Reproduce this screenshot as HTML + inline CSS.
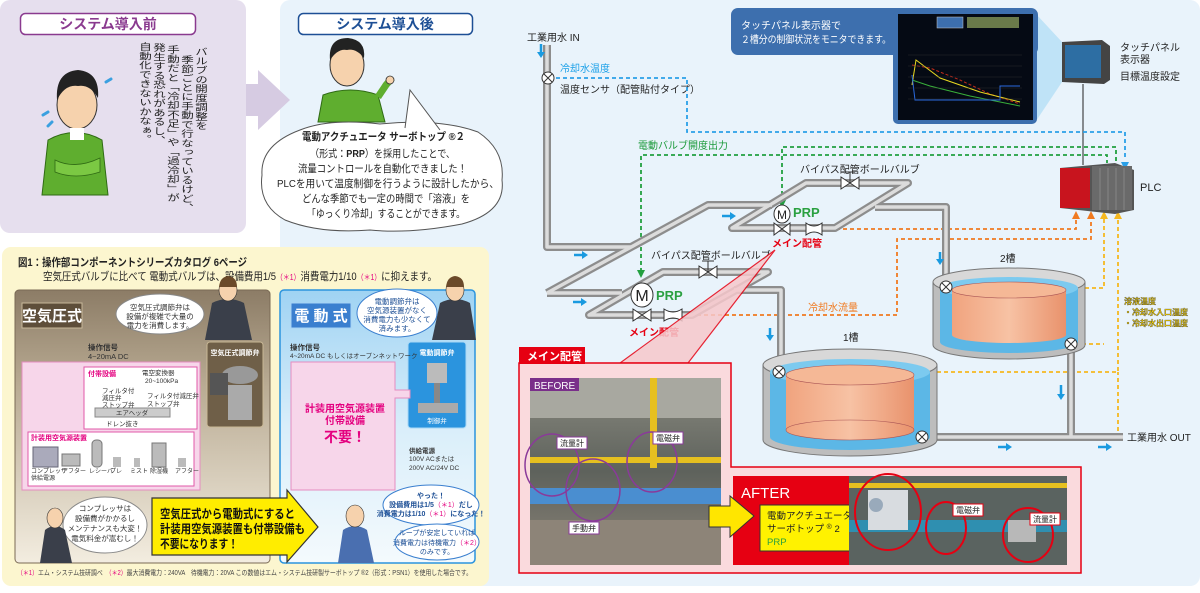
<!DOCTYPE html>
<html><head><meta charset="utf-8">
<style>
html,body{margin:0;padding:0;width:1200px;height:593px;overflow:hidden;background:#fff;}
body{position:relative;font-family:"Liberation Sans","Noto Sans CJK JP",sans-serif;}
svg{position:absolute;left:0;top:0;}
svg text{font-family:"Liberation Sans","Noto Sans CJK JP",sans-serif;}
.vt{position:absolute;writing-mode:vertical-rl;font-size:12.5px;line-height:14px;color:#222;white-space:nowrap;transform:scale(1,0.74);transform-origin:0 0;}
</style></head><body>
<svg width="1200" height="593" viewBox="0 0 1200 593" xmlns="http://www.w3.org/2000/svg">
<defs>
<linearGradient id="brn" x1="0" y1="0" x2="0" y2="1"><stop offset="0" stop-color="#8c7c66"/><stop offset="0.35" stop-color="#b9ab93"/><stop offset="1" stop-color="#f3ede0"/></linearGradient>
<linearGradient id="blu" x1="0" y1="0" x2="0" y2="1"><stop offset="0" stop-color="#9fd3f3"/><stop offset="0.5" stop-color="#d9eefa"/><stop offset="1" stop-color="#f4fafd"/></linearGradient>
<linearGradient id="org" x1="0" y1="0" x2="1" y2="0"><stop offset="0" stop-color="#f0a37e"/><stop offset="0.5" stop-color="#f7c2a4"/><stop offset="1" stop-color="#e9926c"/></linearGradient>
<linearGradient id="ph1" x1="0" y1="0" x2="0" y2="1"><stop offset="0" stop-color="#8a8a80"/><stop offset="0.5" stop-color="#5e625c"/><stop offset="1" stop-color="#8c8478"/></linearGradient>
</defs>
<rect x="0" y="0" width="246" height="233" rx="10" fill="#e6dfee"/>
<rect x="280" y="0" width="920" height="586" rx="10" fill="#e9f3fb"/>
<polygon points="246,84 258,84 258,70 290,100 258,130 258,116 246,116" fill="#d6cbe2"/>
<rect x="2" y="247" width="487" height="339" rx="9" fill="#fcf6cf"/>
<rect x="20.5" y="13.5" width="175" height="21" rx="5" fill="#fff" stroke="#8a3a8f" stroke-width="1.5"/>
<text x="108" y="29" font-size="14" font-weight="bold" fill="#8a3a8f" text-anchor="middle">システム導入前</text>
<rect x="298.5" y="13.5" width="174" height="21" rx="5" fill="#fff" stroke="#1d4f95" stroke-width="1.5"/>
<text x="385" y="29" font-size="14" font-weight="bold" fill="#1d4f95" text-anchor="middle">システム導入後</text>
<g>
<path d="M42,195 L48,140 Q75,125 102,140 L108,195 Z" fill="#5fae2f" stroke="#2f6a14" stroke-width="1"/>
<path d="M55,160 Q75,170 100,158 L100,172 Q75,180 55,172Z" fill="#7bc843" stroke="#2f6a14" stroke-width="0.8"/>
<ellipse cx="77" cy="105" rx="20" ry="24" fill="#f6d2ad" stroke="#333" stroke-width="1"/>
<path d="M57,100 Q55,72 78,70 Q100,72 98,98 Q90,84 78,86 Q65,84 57,100Z" fill="#222"/>
<rect x="70" y="128" width="14" height="12" fill="#fff"/>
<path d="M106,82 l5,-3 M48,112 l-5,3 M52,122 l-4,4" stroke="#3aa0e0" stroke-width="3" stroke-linecap="round"/>
</g>
<g>
<path d="M318,122 L323,95 Q350,85 378,95 L385,122 Z" fill="#5fae2f" stroke="#2f6a14" stroke-width="1"/>
<ellipse cx="347" cy="65" rx="17" ry="21" fill="#f6d2ad" stroke="#333" stroke-width="1"/>
<path d="M330,60 Q328,38 348,38 Q366,40 364,58 Q356,48 347,50 Q338,48 330,60Z" fill="#222"/>
<path d="M378,97 L386,85 L392,78" stroke="#5fae2f" stroke-width="7" fill="none"/>
<circle cx="390" cy="80" r="4" fill="#f6d2ad" stroke="#333" stroke-width="0.8"/>
</g>
<path d="M300,130 Q330,118 380,124 Q440,118 478,132 Q505,150 502,180 Q506,212 462,224 Q410,234 370,230 Q320,234 285,220 Q258,205 262,175 Q260,145 300,130Z" fill="#fff" stroke="#555" stroke-width="1"/>
<polygon points="405,128 410,90 440,130" fill="#fff"/>
<path d="M405,128 L410,90 L440,130" fill="none" stroke="#555" stroke-width="1"/>
<g font-size="10.5" fill="#222">
<text x="302" y="140" font-weight="bold" textLength="163" lengthAdjust="spacingAndGlyphs">電動アクチュエータ  サーボトップ ®２</text>
<text x="310" y="157" textLength="145" lengthAdjust="spacingAndGlyphs">（形式：<tspan font-weight="bold">PRP</tspan>）を採用したことで、</text>
<text x="298" y="172" textLength="169" lengthAdjust="spacingAndGlyphs">流量コントロールを自動化できました！</text>
<text x="277" y="187" textLength="222" lengthAdjust="spacingAndGlyphs">PLCを用いて温度制御を行うように設計したから、</text>
<text x="302" y="202" textLength="168" lengthAdjust="spacingAndGlyphs">どんな季節でも一定の時間で「溶液」を</text>
<text x="307" y="217" textLength="158" lengthAdjust="spacingAndGlyphs">「ゆっくり冷却」することができます。</text>
</g>

<text x="18" y="266" font-size="11" font-weight="bold" fill="#222" textLength="229" lengthAdjust="spacingAndGlyphs">図1：操作部コンポーネントシリーズカタログ 6ページ</text>
<text x="43" y="280" font-size="11" fill="#222" textLength="394" lengthAdjust="spacingAndGlyphs">空気圧式バルブに比べて 電動式バルブは、設備費用1/5<tspan fill="#e4007f" font-size="8">（＊1）</tspan>消費電力1/10<tspan fill="#e4007f" font-size="8">（＊1）</tspan>に抑えます。</text>
<rect x="15" y="290" width="255" height="273" rx="4" fill="url(#brn)" stroke="#7a6a55"/>
<rect x="22" y="303" width="60" height="25" fill="#5e4e3a" stroke="#c8b89a"/>
<text x="52" y="321" font-size="15" font-weight="bold" fill="#fff" text-anchor="middle">空気圧式</text>
<rect x="280" y="290" width="195" height="273" rx="4" fill="url(#blu)" stroke="#2b94de" stroke-width="1.5"/>
<rect x="291" y="303" width="60" height="25" fill="#3a7fcf" stroke="#a7d3f5"/>
<text x="321" y="321" font-size="15" font-weight="bold" fill="#fff" text-anchor="middle">電 動 式</text>
<ellipse cx="160" cy="314" rx="44" ry="20" fill="#fff" stroke="#888"/>
<g font-size="7.5" fill="#333" text-anchor="middle"><text x="160" y="310">空気圧式調節弁は</text><text x="160" y="319">設備が複雑で大量の</text><text x="160" y="328">電力を消費します。</text></g>
<ellipse cx="397" cy="313" rx="40" ry="24" fill="#fff" stroke="#3a7fcf"/>
<g font-size="7.5" fill="#1d4f95" text-anchor="middle"><text x="397" y="304">電動調節弁は</text><text x="397" y="313">空気源装置がなく</text><text x="397" y="322">消費電力も少なくて</text><text x="397" y="331">済みます。</text></g>
<path d="M205,340 L212,303 Q228,295 244,303 L252,340Z" fill="#3a3f4a"/><ellipse cx="228" cy="290" rx="9" ry="11" fill="#f6d2ad" stroke="#333" stroke-width="0.6"/><path d="M219,287 Q220,277 228,276 Q237,277 237,287Z" fill="#6b4a2a"/>
<path d="M432,340 L440,303 Q455,295 470,303 L476,340Z" fill="#3a3f4a"/><ellipse cx="455" cy="290" rx="9" ry="11" fill="#f6d2ad" stroke="#333" stroke-width="0.6"/><path d="M446,287 Q447,277 455,276 Q464,277 464,287Z" fill="#6b4a2a"/>
<text x="88" y="350" font-size="7.5" font-weight="bold" fill="#333">操作信号</text>
<text x="88" y="359" font-size="7.5" fill="#333">4~20mA DC</text>
<rect x="22" y="362" width="178" height="128" fill="#f7d6ea" stroke="#e58cc0"/>
<rect x="84" y="367" width="113" height="62" fill="#fff" stroke="#e058a8"/>
<text x="88" y="376" font-size="7" font-weight="bold" fill="#e4007f">付帯設備</text>
<rect x="28" y="432" width="166" height="54" fill="#fff" stroke="#e058a8"/>
<text x="31" y="440" font-size="7" font-weight="bold" fill="#e4007f">計装用空気源装置</text>
<rect x="95" y="408" width="75" height="9" fill="#ccc" stroke="#888"/>
<text x="132" y="415" font-size="6.5" text-anchor="middle" fill="#333">エアヘッダ</text>
<g font-size="6.5" fill="#333"><text x="142" y="375">電空変換器</text><text x="145" y="383">20~100kPa</text><text x="102" y="393">フィルタ付</text><text x="102" y="400">減圧弁</text><text x="102" y="407">ストップ弁</text><text x="147" y="398">フィルタ付減圧弁</text><text x="147" y="406">ストップ弁</text><text x="106" y="426">ドレン抜き</text></g>
<rect x="33" y="447" width="25" height="20" fill="#aab" stroke="#667"/><rect x="62" y="454" width="18" height="12" fill="#bbb" stroke="#777"/><rect x="92" y="440" width="10" height="27" rx="4" fill="#bbb" stroke="#777"/><rect x="113" y="457" width="8" height="10" fill="#bbb"/><rect x="134" y="458" width="6" height="9" fill="#bbb"/><rect x="152" y="443" width="14" height="24" fill="#bbb" stroke="#777"/><rect x="178" y="458" width="8" height="9" fill="#bbb"/>
<g font-size="6" fill="#333"><text x="31" y="473">コンプレッサ</text><text x="62" y="473">アフター</text><text x="89" y="473">レシーバ</text><text x="110" y="473">プレ</text><text x="130" y="473">ミスト</text><text x="150" y="473">除湿機</text><text x="175" y="473">アフター</text><text x="31" y="480">供給電源</text></g>
<rect x="207" y="342" width="56" height="85" rx="3" fill="#6f5f48" stroke="#c9b896"/>
<text x="235" y="355" font-size="7" font-weight="bold" fill="#fff" text-anchor="middle">空気圧式調節弁</text>
<ellipse cx="240" cy="375" rx="18" ry="9" fill="#999"/><rect x="228" y="385" width="24" height="35" fill="#aaa"/>
<rect x="210" y="373" width="18" height="22" fill="#555"/>
<rect x="408" y="342" width="58" height="86" rx="3" fill="#2b94de" stroke="#a8d8f6"/>
<text x="437" y="355" font-size="7" font-weight="bold" fill="#fff" text-anchor="middle">電動調節弁</text>
<rect x="427" y="363" width="20" height="20" fill="#bbb"/><rect x="434" y="383" width="6" height="20" fill="#888"/><rect x="418" y="403" width="40" height="10" fill="#aaa"/>
<text x="437" y="423" font-size="6.5" fill="#fff" text-anchor="middle">制御弁</text>
<text x="290" y="350" font-size="7.5" font-weight="bold" fill="#333">操作信号</text>
<text x="290" y="358" font-size="6.5" fill="#333">4~20mA DC もしくはオープンネットワーク</text>
<path d="M291,362 H395 V390 H410 V398 H395 V490 H291Z" fill="#f7d6ea" stroke="#e58cc0"/>
<g text-anchor="middle" font-weight="bold" fill="#e4007f"><text x="345" y="412" font-size="10">計装用空気源装置</text><text x="345" y="424" font-size="10">付帯設備</text><text x="345" y="442" font-size="14">不要！</text></g>
<g font-size="6.5" fill="#333"><text x="409" y="453" font-weight="bold">供給電源</text><text x="409" y="461">100V ACまたは</text><text x="409" y="470">200V AC/24V DC</text></g>
<ellipse cx="105" cy="525" rx="42" ry="28" fill="#fff" stroke="#888"/>
<g font-size="7.5" fill="#333" text-anchor="middle"><text x="105" y="511">コンプレッサは</text><text x="105" y="521">設備費がかかるし</text><text x="105" y="531">メンテナンスも大変！</text><text x="105" y="541">電気料金が嵩むし！</text></g>
<path d="M40,563 L45,530 Q55,522 65,530 L72,563Z" fill="#3a3f4a"/><ellipse cx="55" cy="518" rx="8" ry="10" fill="#f6d2ad" stroke="#333" stroke-width="0.6"/>
<polygon points="152,498 287,498 287,490 318,527 287,562 287,555 152,555" fill="#ffed00" stroke="#333" stroke-width="1.2"/>
<g font-size="12" font-weight="bold" fill="#111"><text x="160" y="518" textLength="135" lengthAdjust="spacingAndGlyphs">空気圧式から電動式にすると</text><text x="160" y="533" textLength="145" lengthAdjust="spacingAndGlyphs">計装用空気源装置も付帯設備も</text><text x="160" y="548" textLength="78" lengthAdjust="spacingAndGlyphs">不要になります！</text></g>
<path d="M338,563 L343,530 Q355,522 367,530 L374,563Z" fill="#4a6fb0"/><ellipse cx="355" cy="516" rx="9" ry="11" fill="#f6d2ad" stroke="#333" stroke-width="0.6"/>
<ellipse cx="431" cy="505" rx="48" ry="20" fill="#fff" stroke="#3a7fcf"/>
<g font-size="7" fill="#1d4f95" text-anchor="middle" font-weight="bold"><text x="431" y="498">やった！</text><text x="431" y="507">設備費用は1/5<tspan fill="#e4007f" font-weight="normal">（＊1）</tspan>だし</text><text x="431" y="516">消費電力は1/10<tspan fill="#e4007f" font-weight="normal">（＊1）</tspan>になった！</text></g>
<ellipse cx="437" cy="542" rx="42" ry="18" fill="#fff" stroke="#3a7fcf"/>
<g font-size="7" fill="#1d4f95" text-anchor="middle"><text x="437" y="535">ループが安定していれば</text><text x="437" y="545">消費電力は待機電力<tspan fill="#e4007f">（＊2）</tspan></text><text x="437" y="554">のみです。</text></g>
<text x="17" y="575" font-size="7" fill="#444" textLength="455" lengthAdjust="spacingAndGlyphs"><tspan fill="#e4007f">（＊1）</tspan>エム・システム技研調べ　<tspan fill="#e4007f">（＊2）</tspan>最大消費電力：240VA　待機電力：20VA この数値はエム・システム技研製サーボトップ ®2（形式：PSN1）を使用した場合です。</text>

<!-- right diagram -->
<polygon points="1036,14 1062,42 1062,82 1036,121" fill="#bfe3f7"/>
<rect x="731" y="8" width="307" height="47" rx="7" fill="#3d6fae"/>
<text x="741" y="29" font-size="10" fill="#fff">タッチパネル表示器で</text>
<text x="741" y="43" font-size="10" fill="#fff" textLength="150" lengthAdjust="spacingAndGlyphs">２槽分の制御状況をモニタできます。</text>
<rect x="893" y="11" width="144" height="113" rx="5" fill="#3d6fae"/>
<rect x="898" y="14" width="135" height="106" fill="#050a14"/>
<rect x="937" y="17" width="26" height="11" fill="#3d6fae" stroke="#ccc" stroke-width="0.5"/>
<rect x="967" y="17" width="52" height="11" fill="#6a7a4a"/>
<g fill="none" stroke-width="1"><polyline points="912,65 930,68 960,80 990,94 1020,104" stroke="#c02a1a" stroke-dasharray="3,2"/><polyline points="912,85 916,60 940,78 980,92 1020,102" stroke="#e8d820"/><polyline points="912,80 930,86 970,96 1020,106" stroke="#39b03a"/><polyline points="912,75 915,100 1000,100 1000,86 1020,86" stroke="#2a6ae0"/></g>
<g stroke="#333" stroke-width="0.4"><line x1="908" y1="55" x2="1022" y2="55"/><line x1="908" y1="66" x2="1022" y2="66"/><line x1="908" y1="77" x2="1022" y2="77"/><line x1="908" y1="88" x2="1022" y2="88"/><line x1="908" y1="99" x2="1022" y2="99"/></g>
<polygon points="1062,42 1102,40 1110,46 1110,80 1104,84 1062,82" fill="#444"/>
<rect x="1065" y="45" width="36" height="33" fill="#2d6ea3"/>
<g font-size="10" fill="#222"><text x="1120" y="51">タッチパネル</text><text x="1120" y="63">表示器</text><text x="1120" y="80">目標温度設定</text></g>
<line x1="1083" y1="84" x2="1083" y2="165" stroke="#222" stroke-width="1"/>
<text x="527" y="41" font-size="10" fill="#222">工業用水 IN</text>
<text x="560" y="72" font-size="10" fill="#1aa0e8">冷却水温度</text>
<text x="560" y="93" font-size="10" fill="#222">温度センサ（配管貼付タイプ）</text>
<text x="638" y="149" font-size="10" fill="#1a9a3a">電動バルブ開度出力</text>
<g fill="none" stroke-width="1.8" stroke-dasharray="4,3">
<polyline points="556,78 687,78 687,132 1125,132 1125,160" stroke="#2aa0e8"/>
<polyline points="641,272 641,155 1107,155 1107,163" stroke="#22a040"/>
<polyline points="782,202 782,147 1116,147 1116,163" stroke="#22a040"/>
<polyline points="822,229 1076,229 1076,218" stroke="#f07a20"/>
<polyline points="683,315 897,315 897,239 1091,239 1091,218" stroke="#f07a20"/>
<polyline points="952,288 1104,288 1104,218" stroke="#f5b820"/>
<polyline points="1075,344 1104,344" stroke="#f5b820"/>
<polyline points="783,372 1118,372 1118,218" stroke="#f5b820"/>
<polyline points="928,437 1118,437 1118,372" stroke="#f5b820"/>
</g>
<g>
<polygon points="1121,162 1129,162 1125,170" fill="#2aa0e8"/>
<polygon points="637,270 645,270 641,278" fill="#22a040"/>
<polygon points="778,200 786,200 782,208" fill="#22a040"/>
<polygon points="1072,219 1080,219 1076,211" fill="#f07a20"/>
<polygon points="1087,219 1095,219 1091,211" fill="#f07a20"/>
<polygon points="1100,219 1108,219 1104,211" fill="#f5b820"/>
<polygon points="1114,219 1122,219 1118,211" fill="#f5b820"/>
</g>
<polygon points="1060,168 1115,163 1134,170 1134,210 1115,214 1060,208" fill="#555"/>
<rect x="1060" y="168" width="30" height="40" fill="#c8141e"/>
<rect x="1092" y="166" width="40" height="44" fill="#6a6a6a"/>
<g stroke="#999" stroke-width="0.6"><line x1="1100" y1="168" x2="1100" y2="210"/><line x1="1108" y1="168" x2="1108" y2="210"/><line x1="1116" y1="168" x2="1116" y2="210"/><line x1="1124" y1="168" x2="1124" y2="210"/></g>
<text x="1140" y="191" font-size="11" fill="#222">PLC</text>
<g fill="none" stroke-linejoin="round">
<g stroke="#8d8d8d" stroke-width="8">
<path d="M547,45 V247 H631"/><path d="M547,293 L708,205 H772"/><path d="M547,293 H622"/>
<path d="M732,228 L806,183 H908 L835,228 Z"/><path d="M875,207 H946 V290"/>
<path d="M589,315 L663,272 H768 L692,315 Z"/><path d="M734,290 H781 V365"/>
<path d="M922,437 H1123"/><path d="M1071,344 V437"/>
</g>
<g stroke="#dcdcdc" stroke-width="3.5">
<path d="M547,45 V247 H631"/><path d="M547,293 L708,205 H772"/><path d="M547,293 H622"/>
<path d="M732,228 L806,183 H908 L835,228 Z"/><path d="M875,207 H946 V290"/>
<path d="M589,315 L663,272 H768 L692,315 Z"/><path d="M734,290 H781 V365"/>
<path d="M922,437 H1123"/><path d="M1071,344 V437"/>
</g>
</g>
<g stroke="#333" stroke-width="1" fill="#fff"><circle cx="548" cy="78" r="6"/><path d="M544,74 l8,8 M552,74 l-8,8"/></g>
<g fill="#fff" stroke="#333" stroke-width="1">
<path d="M841,177 L859,189 V177 L841,189Z"/><line x1="850" y1="183" x2="850" y2="172"/><line x1="845" y1="172" x2="855" y2="172"/>
<path d="M699,266 L717,278 V266 L699,278Z"/><line x1="708" y1="272" x2="708" y2="261"/><line x1="702" y1="261" x2="714" y2="261"/>
<path d="M774,223 L790,235 V223 L774,235Z"/><path d="M806,223 Q814,229 822,223 V235 Q814,229 806,235Z"/>
<path d="M633,309 L651,321 V309 L633,321Z"/><path d="M664,309 Q673,315 682,309 V321 Q673,315 664,321Z"/>
<ellipse cx="782" cy="214" rx="8" ry="9"/><ellipse cx="642" cy="295" rx="11" ry="12"/>
</g>
<text x="782" y="219" font-size="12" text-anchor="middle" fill="#222">M</text>
<text x="642" y="301" font-size="16" text-anchor="middle" fill="#222">M</text>
<text x="793" y="217" font-size="13" font-weight="bold" fill="#2aa040">PRP</text>
<text x="656" y="300" font-size="13" font-weight="bold" fill="#2aa040">PRP</text>
<text x="797" y="247" font-size="10" font-weight="bold" fill="#e60012" text-anchor="middle">メイン配管</text>
<text x="654" y="336" font-size="10" font-weight="bold" fill="#e60012" text-anchor="middle">メイン配管</text>
<text x="800" y="173" font-size="10" fill="#222">バイパス配管ボールバルブ</text>
<text x="651" y="259" font-size="10" fill="#222">バイパス配管ボールバルブ</text>
<text x="808" y="311" font-size="10" fill="#f07a20">冷却水流量</text>
<text x="1000" y="262" font-size="10" fill="#222">2槽</text>
<text x="843" y="341" font-size="10" fill="#222">1槽</text>
<text x="1127" y="441" font-size="10" fill="#222">工業用水 OUT</text>
<g font-size="8" font-weight="bold" fill="#f5d000" stroke="#333" stroke-width="0.3"><text x="1124" y="304">溶液温度</text><text x="1124" y="315">・冷却水入口温度</text><text x="1124" y="326">・冷却水出口温度</text></g>
<g stroke="#1a9ae0" stroke-width="2.5" fill="#1a9ae0">
<line x1="541" y1="44" x2="541" y2="53"/><polygon points="537,52 545,52 541,58" stroke="none"/>
<line x1="574" y1="255" x2="582" y2="255"/><polygon points="582,251 582,259 588,255" stroke="none"/>
<line x1="573" y1="302" x2="581" y2="302"/><polygon points="581,298 581,306 587,302" stroke="none"/>
<line x1="722" y1="216" x2="730" y2="216"/><polygon points="730,212 730,220 736,216" stroke="none"/>
<line x1="940" y1="252" x2="940" y2="260"/><polygon points="936,259 944,259 940,265" stroke="none"/>
<line x1="770" y1="328" x2="770" y2="336"/><polygon points="766,335 774,335 770,341" stroke="none"/>
<line x1="1061" y1="385" x2="1061" y2="395"/><polygon points="1057,394 1065,394 1061,400" stroke="none"/>
<line x1="998" y1="447" x2="1006" y2="447"/><polygon points="1006,443 1006,451 1012,447" stroke="none"/>
<line x1="1098" y1="447" x2="1106" y2="447"/><polygon points="1106,443 1106,451 1112,447" stroke="none"/>
</g>
<g>
<path d="M933,282 V345 A76,14 0 0 0 1085,345 V282Z" fill="#bdbdbd" stroke="#777"/>
<ellipse cx="1009" cy="282" rx="76" ry="14" fill="#d8d8d8" stroke="#777"/>
<path d="M940,288 V342 A69,11 0 0 0 1078,342 V288Z" fill="#5cb7e6"/>
<ellipse cx="1009" cy="288" rx="69" ry="11" fill="#7ccaef"/>
<path d="M952,290 V335 A57,8 0 0 0 1066,335 V290Z" fill="url(#org)"/>
<ellipse cx="1009" cy="290" rx="57" ry="8" fill="#f5b896" stroke="#a55" stroke-width="0.6"/>
</g>
<g>
<path d="M763,365 V440 A87,16 0 0 0 937,440 V365Z" fill="#bdbdbd" stroke="#777"/>
<ellipse cx="850" cy="365" rx="87" ry="16" fill="#d8d8d8" stroke="#777"/>
<path d="M770,372 V437 A80,13 0 0 0 930,437 V372Z" fill="#5cb7e6"/>
<ellipse cx="850" cy="372" rx="80" ry="13" fill="#7ccaef"/>
<path d="M786,375 V430 A64,10 0 0 0 914,430 V375Z" fill="url(#org)"/>
<ellipse cx="850" cy="375" rx="64" ry="10" fill="#f5b896" stroke="#a55" stroke-width="0.6"/>
<ellipse cx="850" cy="430" rx="64" ry="10" fill="none" stroke="#a55" stroke-width="0.6"/>
</g>
<g stroke="#333" stroke-width="1" fill="#fff">
<circle cx="946" cy="287" r="6"/><path d="M942,283 l8,8 M950,283 l-8,8"/>
<circle cx="1071" cy="344" r="6"/><path d="M1067,340 l8,8 M1075,340 l-8,8"/>
<circle cx="779" cy="372" r="6"/><path d="M775,368 l8,8 M783,368 l-8,8"/>
<circle cx="922" cy="437" r="6"/><path d="M918,433 l8,8 M926,433 l-8,8"/>
</g>
<polygon points="775,250 620,363 688,363" fill="#f6c8cc" stroke="#e60012" stroke-width="1.2" opacity="0.85"/>
<path d="M519,363 V573 H1081 V467 H731 V363 Z" fill="#fadadd" stroke="#e60012" stroke-width="1.5"/>
<rect x="519" y="347" width="66" height="17" fill="#e60012"/>
<text x="527" y="360" font-size="11" font-weight="bold" fill="#fff">メイン配管</text>
<rect x="530" y="378" width="191" height="187" fill="url(#ph1)"/>
<rect x="530" y="378" width="191" height="40" fill="#a8a8a0"/>
<rect x="530" y="457" width="191" height="6" fill="#e6c020"/>
<rect x="650" y="378" width="7" height="90" fill="#e6c020"/>
<rect x="530" y="488" width="191" height="16" fill="#4a8ed0"/>
<rect x="530" y="520" width="191" height="45" fill="#8d8478"/>
<rect x="530" y="378" width="49" height="13" fill="#7a2f8a"/>
<text x="534" y="389" font-size="10" fill="#fff">BEFORE</text>
<g fill="none" stroke="#8a3a9a" stroke-width="1.5"><ellipse cx="552" cy="465" rx="27" ry="31"/><ellipse cx="593" cy="490" rx="27" ry="31"/><ellipse cx="652" cy="462" rx="25" ry="30"/></g>
<g font-size="8" fill="#222"><rect x="557" y="437" width="30" height="12" fill="#fff" stroke="#8a3a9a"/><text x="560" y="446">流量計</text><rect x="653" y="432" width="30" height="12" fill="#fff" stroke="#8a3a9a"/><text x="656" y="441">電磁弁</text><rect x="569" y="522" width="30" height="12" fill="#fff" stroke="#8a3a9a"/><text x="572" y="531">手動弁</text></g>
<rect x="733" y="476" width="116" height="89" fill="#e60012"/>
<text x="741" y="498" font-size="15" fill="#fff">AFTER</text>
<polygon points="709,506 730,506 730,496 754,516 730,537 730,527 709,527" fill="#ffe600" stroke="#333"/>
<rect x="760" y="505" width="90" height="46" fill="#fff200" stroke="#333"/>
<g font-size="9.5" fill="#222"><text x="767" y="519">電動アクチュエータ</text><text x="767" y="532">サーボトップ <tspan font-size="7" dy="-3">®</tspan><tspan dy="3"> 2</tspan></text><text x="767" y="545" fill="#2aa040">PRP</text></g>
<rect x="849" y="476" width="218" height="89" fill="#5a6360"/>
<rect x="849" y="483" width="218" height="5" fill="#e6c020"/>
<rect x="849" y="520" width="218" height="12" fill="#2f8fb0"/>
<rect x="868" y="490" width="40" height="40" fill="#d8dce0"/>
<circle cx="876" cy="505" r="7" fill="#9ab"/>
<rect x="1008" y="520" width="28" height="22" fill="#b8b8b8"/>
<g fill="none" stroke="#e60012" stroke-width="2"><ellipse cx="888" cy="512" rx="33" ry="38"/><ellipse cx="946" cy="528" rx="20" ry="26"/><ellipse cx="1028" cy="535" rx="25" ry="27"/></g>
<g font-size="8" fill="#222"><rect x="953" y="504" width="30" height="12" fill="#fff" stroke="#e60012"/><text x="956" y="513">電磁弁</text><rect x="1030" y="513" width="30" height="12" fill="#fff" stroke="#e60012"/><text x="1033" y="522">流量計</text></g>
</svg>
<div class="vt" style="left:193px;top:47px;">バルブの開度調整を</div>
<div class="vt" style="left:179px;top:55px;">季節ごとに手動で行なっているけど、</div>
<div class="vt" style="left:165px;top:45px;">手動だと「冷却不足」や「過冷却」が</div>
<div class="vt" style="left:151px;top:43px;">発生する恐れがあるし、</div>
<div class="vt" style="left:137px;top:42px;">自動化できないかなぁ。</div>
</body></html>
